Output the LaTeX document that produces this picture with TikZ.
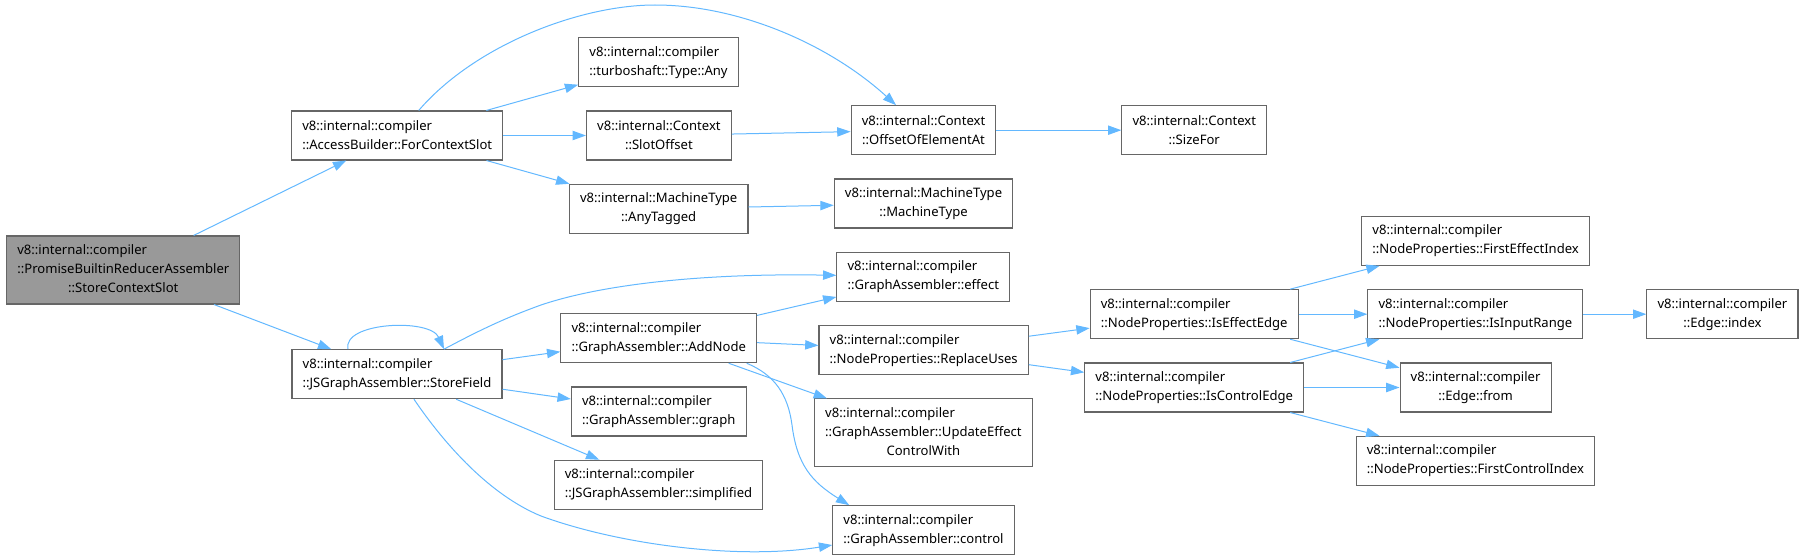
\documentclass[tikz,border=0pt]{standalone}
\usepackage{fontspec}
\setmainfont{Noto Sans}
\usepackage{tikz}
\usetikzlibrary{arrows.meta,calc}
\definecolor{cgedge}{HTML}{63B8FF}
\definecolor{cgbox}{HTML}{666666}
\definecolor{cgroot}{HTML}{999999}
\tikzset{
  fn/.style={draw=cgbox,line width=0.8pt,fill=white,align=left,
             minimum height=36.75pt,inner xsep=8pt,inner ysep=2pt,
             font=\fontsize{9.8}{14.25}\selectfont},
  fnc/.style={fn,align=center},
  fntall/.style={fn,minimum height=51pt},
  fnroot/.style={fntall,fill=cgroot},
  call/.style={draw=cgedge,line width=0.75pt,-{Triangle[length=10pt,width=7pt]}},
}
\newcommand{\lastcentered}[3]{\begin{tabular}{@{}l@{}}#1\\#2\\\multicolumn{1}{@{}c@{}}{#3}\end{tabular}}

\begin{document}
\begin{tikzpicture}[x=0.75pt,y=-0.75pt]
  \useasboundingbox (0,0) rectangle (1805,560);
  % column 1 and 2
  \node[fnroot] (scs) at (123.3,270) {\lastcentered{v8::internal::compiler}{::PromiseBuiltinReducerAssembler}{::StoreContextSlot}};
  \node[fn] (fcs) at (397.2,135.5) {v8::internal::compiler\\::AccessBuilder::ForContextSlot};
  \node[fn] (sf) at (397,374.2) {v8::internal::compiler\\::JSGraphAssembler::StoreField};
  % column 3
  \node[fn] (tany) at (658.5,62.2) {v8::internal::compiler\\::turboshaft::Type::Any};
  \node[fnc] (slot) at (658.9,135.5) {v8::internal::Context\\::SlotOffset};
  \node[fnc] (anyt) at (658.7,208.8) {v8::internal::MachineType\\::AnyTagged};
  \node[fn] (addn) at (658.7,338.2) {v8::internal::compiler\\::GraphAssembler::AddNode};
  \node[fn] (graph) at (658.7,411.5) {v8::internal::compiler\\::GraphAssembler::graph};
  \node[fn] (simp) at (658.5,484.8) {v8::internal::compiler\\::JSGraphAssembler::simplified};
  % column 4
  \node[fnc] (ofe) at (923.5,130.2) {v8::internal::Context\\::OffsetOfElementAt};
  \node[fnc] (mty) at (923.5,203.5) {v8::internal::MachineType\\::MachineType};
  \node[fn] (eff) at (923.3,276.8) {v8::internal::compiler\\::GraphAssembler::effect};
  \node[fn] (repl) at (923.7,350.2) {v8::internal::compiler\\::NodeProperties::ReplaceUses};
  \node[fntall] (upd) at (923.4,432.9) {\lastcentered{v8::internal::compiler}{::GraphAssembler::UpdateEffect}{ControlWith}};
  \node[fn] (ctrl) at (923.5,530.2) {v8::internal::compiler\\::GraphAssembler::control};
  % column 5
  \node[fnc] (sizef) at (1194.3,130.2) {v8::internal::Context\\::SizeFor};
  \node[fn] (iee) at (1194.2,314.2) {v8::internal::compiler\\::NodeProperties::IsEffectEdge};
  \node[fn] (ice) at (1194.2,387.5) {v8::internal::compiler\\::NodeProperties::IsControlEdge};
  % column 6 and 7
  \node[fn] (fei) at (1475.6,240.8) {v8::internal::compiler\\::NodeProperties::FirstEffectIndex};
  \node[fn] (iir) at (1475.4,314.2) {v8::internal::compiler\\::NodeProperties::IsInputRange};
  \node[fnc] (efrom) at (1475.6,387.5) {v8::internal::compiler\\::Edge::from};
  \node[fn] (fci) at (1475.4,460.8) {v8::internal::compiler\\::NodeProperties::FirstControlIndex};
  \node[fnc] (eidx) at (1722.4,314.2) {v8::internal::compiler\\::Edge::index};

  % calls
  \draw[call] (scs) -- (fcs);
  \draw[call] (scs) -- (sf);
  \draw[call] (fcs) -- (tany);
  \draw[call] (fcs) -- (slot);
  \draw[call] (fcs) -- (anyt);
  \draw[call] (fcs) .. controls (475,45) and (580,5) .. (655,5)
                    .. controls (740,5) and (830,45) .. (ofe);
  \draw[call] (slot) -- (ofe);
  \draw[call] (anyt) -- (mty);
  \draw[call] (ofe) -- (sizef);
  \draw[call] ($(sf.north)+(-49,0)$) .. controls (342,322) and (430,318) .. ($(sf.north)+(47,0)$);
  \draw[call] ($(sf.north)+(47,0)$) .. controls (480,330) and (505,318) .. (541,305)
                    .. controls (600,285) and (700,273) .. (eff);
  \draw[call] (sf) -- (addn);
  \draw[call] (sf) -- (graph);
  \draw[call] (sf) -- (simp);
  \draw[call] (sf) .. controls (445,445) and (490,495) .. (541,516)
                   .. controls (620,545) and (740,560) .. (ctrl);
  \draw[call] (addn) -- (eff);
  \draw[call] (addn) -- (repl);
  \draw[call] (addn) -- (upd);
  \draw[call] ($(addn.south)+(88,0)$) .. controls (775,375) and (788,395) .. (792,425)
                   .. controls (797,465) and (812,482) .. ($(ctrl.north west)+(17,0)$);
  \draw[call] (repl) -- (iee);
  \draw[call] (repl) -- (ice);
  \draw[call] (iee) -- (fei);
  \draw[call] (iee) -- (iir);
  \draw[call] (iee) -- (efrom);
  \draw[call] (ice) -- (iir);
  \draw[call] (ice) -- (efrom);
  \draw[call] (ice) -- (fci);
  \draw[call] (iir) -- (eidx);
\end{tikzpicture}
\end{document}
